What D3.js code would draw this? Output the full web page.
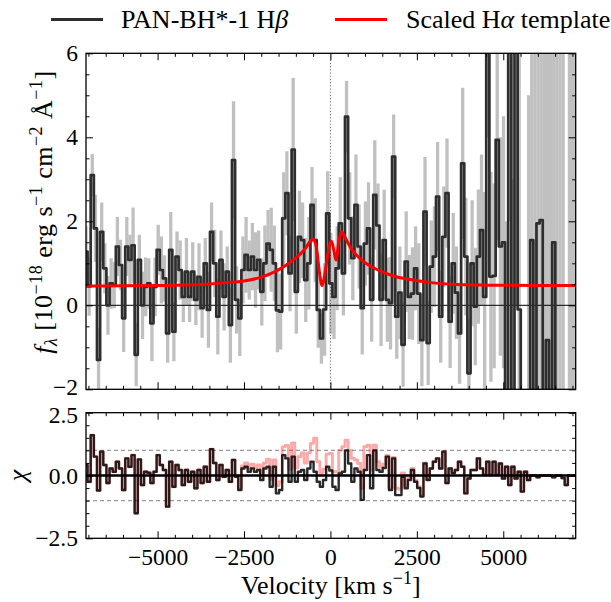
<!DOCTYPE html>
<html>
<head>
<meta charset="utf-8">
<script src="https://cdn.jsdelivr.net/npm/d3@7"></script>
<style>
  body { margin: 0; background: #fff; }
  svg { display: block; }
  text { font-family: "Liberation Serif", "Times New Roman", serif; fill: #000; }
</style>
</head>
<body>
<svg id="chart" width="611" height="602"></svg>
<script>
// Velocity grid of the binned spectrum (km/s): first bin centre and bin width
const binStart = -7070;
const binWidth = 90.8;

// Observed H-beta flux density per bin [1e-18 erg/s/cm2/A]
const flux = [
  1.28, 0.45, 3.1, 1.83, -1.3, 1.75, 0.88, 0.0, 0.52, 0.48,
  1.4, 0.96, -0.31, 1.4, 1.08, 1.43, -1.18, 1.08, 0.0, 0.44,
  0.52, -0.43, 0.44, 1.32, 0.84, 0.64, -0.67, 1.32, -0.63, 1.16,
  0.84, 0.2, 0.8, 0.2, 0.8, 0.13, 0.68, -0.07, 1.0, -0.11,
  1.75, 1.0, -0.27, 1.08, 0.2, 0.8, -0.47, 3.46, 0.13, -0.31,
  0.84, 1.2, 0.84, 1.16, 0.84, 1.08, 0.32, 1.0, 1.47, 1.32,
  1.0, -0.12, -0.15, 2.07, 2.67, 0.76, 3.71, 0.32, 1.63, 1.55,
  0.6, 1.0, 2.39, 1.55, -0.11, -0.79, -0.1, 2.19, 0.52, 0.2,
  0.88, 1.95, 0.76, 4.49, 2.07, 1.12, 2.39, 1.4, -0.07, 1.47,
  1.83, 0.13, 2.63, 1.9, 0.13, 1.55, 0.13, 0.05, 3.54, -0.27,
  0.3, -0.94, 1.04, 0.2, 0.28, 0.88, 0.28, -0.83, 2.23, -0.9,
  0.92, 1.16, 2.59, -0.27, 1.63, 2.67, -0.39, 1.0, 0.3, -0.67,
  3.38, 1.16, -1.62, 1.0, -0.03, 1.16, 1.79, 0.2, 7.0, 0.68,
  0.7, 3.94, 1.4, 1.5, -4.0, 9.0, -5.0, 8.0, -0.1, -4.0,
  -4.0, -4.0, 1.55, -3.0, 1.95, 2.03, -3.5, -0.83, -3.2, 1.5,
  -3.0, -3.5, -3.0, -4.0, -3.0, -3.5, -3.0
];

// 1-sigma uncertainty per bin (0 = no error bar)
const fluxErr = [
  0.6, 0.7, 0.5, 0.8, 0.75, 0.7, 0.6, 0.7, 0.6, 0.55,
  0.7, 0.6, 0.8, 0.7, 0.6, 0.9, 0.75, 0.6, 0.8, 0.7,
  0.6, 0.9, 0.7, 0.6, 0.8, 0.55, 0.7, 0.9, 0.7, 0.6,
  0.7, 0.6, 0.8, 0.6, 0.7, 0.6, 0.8, 0.7, 0.6, 0.9,
  0.7, 0.8, 0.9, 0.7, 0.8, 0.6, 0.9, 1.4, 0.8, 0.9,
  0.8, 0.9, 0.7, 0.8, 0.9, 0.7, 0.8, 0.9, 0.8, 1.0,
  0.9, 1.0, 0.9, 1.1, 1.0, 0.9, 1.7, 1.0, 1.1, 0.9,
  1.0, 1.1, 0.9, 1.0, 0.9, 0.6, 1.1, 1.0, 1.2, 1.0,
  1.0, 1.1, 1.0, 0.85, 1.1, 1.0, 1.2, 1.0, 1.1, 1.0,
  1.1, 1.0, 1.3, 1.0, 1.1, 1.2, 1.0, 1.1, 1.0, 1.0,
  1.1, 1.0, 1.2, 1.0, 1.1, 1.0, 1.2, 1.1, 1.3, 1.0,
  1.1, 1.2, 1.3, 1.1, 1.2, 1.3, 1.1, 1.2, 1.1, 1.2,
  1.8, 1.4, 1.3, 1.5, 1.4, 1.6, 1.8, 2.5, 3.0, 2.5,
  2.2, 2.4, 2.6, 3.0, 6.0, 7.0, 8.0, 8.0, 7.0, 1.5,
  1.5, 9.0, 12.0, 14.0, 15.0, 14.0, 16.0, 15.0, 14.0, 15.0,
  16.0, 15.0, 16.0, 0, 15.0, 15.0, 16.0
];

// Scaled H-alpha template, sampled in velocity
const templateVel = [-7070, -6000, -5000, -4000, -3500, -3000, -2500, -2000, -1600, -1200,
  -900, -700, -560, -480, -400, -320, -240, -170, -80, 0, 40, 100, 160, 240, 320, 420,
  600, 900, 1400, 1900, 2400, 2900, 3500, 4500, 6000, 7095];
const templateFlux = [0.46, 0.465, 0.47, 0.49, 0.51, 0.54, 0.58, 0.67, 0.80, 1.0,
  1.2, 1.38, 1.55, 1.57, 1.35, 0.8, 0.47, 0.7, 1.2, 1.5, 1.52, 1.3, 1.08, 1.5, 1.75, 1.62,
  1.35, 1.08, 0.83, 0.68, 0.6, 0.54, 0.5, 0.48, 0.47, 0.47];

// Residuals against the template (dark) and against the continuum only (light red)
const chiTemplate = [
  0.42, -0.25, 1.6, 0.75, -0.6, 0.95, 0.42, -0.3, 0.28, 0.15,
  0.55, 0.28, -0.58, 0.68, 0.35, 0.81, -1.5, 0.64, -0.38, 0.15,
  0.11, -0.3, 0.15, 0.81, 0.42, 0.22, -1.24, 0.55, -0.45, 0.42,
  0.22, -0.38, 0.22, -0.25, 0.15, -0.51, 0.22, -0.3, 0.35, -0.25,
  1.05, 0.5, -0.18, 0.42, -0.05, 0.22, -0.25, 0.62, -0.05, -0.58,
  0.28, 0.35, 0.15, 0.28, 0.15, 0.22, -0.18, 0.28, 0.35, -0.45,
  0.35, -0.71, -0.58, 0.81, 0.68, -0.25, 0.75, -0.25, 0.15, 0.22,
  -0.18, 0.28, 0.55, 0.15, -0.25, -0.45, -0.18, 0.35, 0.2, -0.45,
  -0.58, 0.08, 0.15, 1.0, 0.48, -0.25, 0.28, 0.15, -0.97, 0.22,
  0.81, -0.51, 1.0, 0.22, 0.15, 0.3, 0.75, -0.58, 0.68, -0.78,
  -0.78, -0.05, -0.51, -0.18, 0.22, -0.25, -0.5, -0.84, 0.48, -0.18,
  0.28, 0.55, 0.68, 0.28, 0.95, -0.3, 0.28, 0.1, 0.22, 0.55,
  0.35, -0.71, -0.12, 0.22, 0.22, 0.68, 0.28, 0.02, 0.55, 0.02,
  0.55, 0.02, 0.48, -0.12, 0.35, -0.38, 0.35, -0.12, 0.15, -0.64,
  0.15, -0.18, 0.0, 0.0, -0.07, 0.0, 0.0, 0.0, 0.0, -0.07,
  0.0, 0.0, -0.1, -0.38, 0.0, 0.0, 0.0
];
const chiContinuum = [
  0.42, -0.25, 1.6, 0.75, -0.6, 0.95, 0.42, -0.3, 0.28, 0.15,
  0.55, 0.28, -0.58, 0.68, 0.35, 0.81, -1.5, 0.64, -0.38, 0.15,
  0.11, -0.3, 0.15, 0.81, 0.42, 0.22, -1.24, 0.55, -0.45, 0.42,
  0.22, -0.38, 0.22, -0.25, 0.15, -0.51, 0.22, -0.3, 0.35, -0.25,
  1.05, 0.5, -0.18, 0.42, -0.05, 0.22, -0.25, 0.62, -0.02, -0.52,
  0.38, 0.5, 0.3, 0.45, 0.32, 0.42, 0.02, 0.5, 0.65, -0.15,
  0.62, -0.4, -0.25, 1.14, 1.2, 0.25, 1.3, 0.3, 0.75, 0.9,
  0.5, 0.9, 1.28, 1.48, 0.55, 0.1, 0.25, 0.85, 0.88, 0.15,
  0.15, 1.0, 1.15, 1.41, 1.0, 0.68, 0.62, 0.48, -0.51, 1.15,
  1.21, 0.22, 1.21, 0.55, 0.35, 0.45, 0.8, -0.5, 0.72, -0.51,
  -0.55, 0.1, -0.4, -0.1, 0.28, -0.2, -0.45, -0.8, 0.5, -0.16,
  0.28, 0.55, 0.68, 0.28, 0.95, -0.3, 0.28, 0.1, 0.22, 0.55,
  0.35, -0.71, -0.12, 0.22, 0.22, 0.68, 0.28, 0.02, 0.55, 0.02,
  0.55, 0.02, 0.48, -0.12, 0.35, -0.38, 0.35, -0.12, 0.15, -0.64,
  0.15, -0.18, 0.0, 0.0, -0.07, 0.0, 0.0, 0.0, 0.0, -0.07,
  0.0, 0.0, -0.1, -0.38, 0.0, 0.0, 0.0
];

// Tick labels / positions
const velTicks = [-5000, -2500, 0, 2500, 5000];
const velMinorStep = 500;
const fluxTicks = [-2, 0, 2, 4, 6];
const fluxMinorStep = 0.5;
const chiTicks = [-2.5, 0, 2.5];
const chiMinorStep = 0.5;
const chiBands = [-1, 1];

const svg = d3.select("#chart");
const L = 86, R = 575.7;
const main = { top: 53.3, bottom: 389.3 };
const low = { top: 412.7, bottom: 538.3 };
const TICK_FS = 23.5;   // tick labels
const LABEL_FS = 26;    // axis labels and legend

const vel = flux.map((_, i) => binStart + i * binWidth);
const x = d3.scaleLinear().domain([binStart, binStart + (flux.length - 1) * binWidth]).range([L, R]);
const yF = d3.scaleLinear().domain([-2, 6]).range([main.bottom, main.top]);
const yC = d3.scaleLinear().domain([-2.5, 2.5]).range([low.bottom, low.top]);

function clip(id, p) {
  svg.append("clipPath").attr("id", id).append("rect")
    .attr("x", L).attr("y", p.top).attr("width", R - L).attr("height", p.bottom - p.top);
}
clip("clipMain", main);
clip("clipLow", low);

// ---------- main panel ----------
const gm = svg.append("g").attr("clip-path", "url(#clipMain)");

gm.append("g").selectAll("line")
  .data(flux.map((f, i) => ({ v: vel[i], f, e: fluxErr[i] })).filter(d => d.e > 0))
  .join("line")
  .attr("x1", d => x(d.v)).attr("x2", d => x(d.v))
  .attr("y1", d => yF(d.f - d.e)).attr("y2", d => yF(d.f + d.e))
  .attr("stroke", "#c0c0c0").attr("stroke-width", 3.3);

gm.append("line").attr("x1", L).attr("x2", R).attr("y1", yF(0)).attr("y2", yF(0))
  .attr("stroke", "#000").attr("stroke-width", 1);
gm.append("line").attr("x1", x(0)).attr("x2", x(0)).attr("y1", main.top).attr("y2", main.bottom)
  .attr("stroke", "#666").attr("stroke-width", 1).attr("stroke-dasharray", "1.2,2");

const step = d3.line().curve(d3.curveStep).x((d, i) => x(vel[i])).y(d => yF(d));
gm.append("path").datum(flux).attr("d", step)
  .attr("fill", "none").attr("stroke", "#2e2e2e").attr("stroke-width", 2.7)
  .attr("stroke-linejoin", "round");

const tmpl = d3.line().curve(d3.curveMonotoneX).x((d, i) => x(templateVel[i])).y(d => yF(d));
gm.append("path").datum(templateFlux).attr("d", tmpl)
  .attr("fill", "none").attr("stroke", "#ff0000").attr("stroke-width", 3);

// ---------- residual panel ----------
const gl = svg.append("g").attr("clip-path", "url(#clipLow)");
chiBands.forEach(b => {
  gl.append("line").attr("x1", L).attr("x2", R).attr("y1", yC(b)).attr("y2", yC(b))
    .attr("stroke", "#9a9a9a").attr("stroke-width", 1.2).attr("stroke-dasharray", "4,3");
});
const stepC = d3.line().curve(d3.curveStep).x((d, i) => x(vel[i])).y(d => yC(d));
gl.append("path").datum(chiContinuum).attr("d", stepC)
  .attr("fill", "none").attr("stroke", "rgba(255,0,0,0.34)").attr("stroke-width", 2.9)
  .attr("stroke-linejoin", "round");
gl.append("path").datum(chiTemplate).attr("d", stepC)
  .attr("fill", "none").attr("stroke", "rgba(0,0,0,0.84)").attr("stroke-width", 2.4)
  .attr("stroke-linejoin", "round");
gl.append("line").attr("x1", L).attr("x2", R).attr("y1", yC(0)).attr("y2", yC(0))
  .attr("stroke", "#000").attr("stroke-width", 2.4);

// ---------- axes ----------
const velMinor = d3.range(-7000, 7001, velMinorStep).filter(v => !velTicks.includes(v));
function minorOf(domain, stepSize, majors) {
  const out = [];
  for (let v = Math.ceil(domain[0] / stepSize) * stepSize; v <= domain[1] + 1e-9; v += stepSize) {
    const r = Math.round(v * 100) / 100;
    if (!majors.some(m => Math.abs(m - r) < 1e-6)) out.push(r);
  }
  return out;
}

function styleAxis(g) {
  g.select(".domain").remove();
  g.selectAll(".tick line").attr("stroke", "#000").attr("stroke-width", 1);
  g.attr("font-family", null).attr("font-size", null);
  g.selectAll("text").attr("font-size", TICK_FS).attr("fill", "#000");
}

function panelAxes(p, y, yMajor, yMinorStep, yFmt, labelX, nudge) {
  const yMinor = minorOf(y.domain(), yMinorStep, yMajor);
  svg.append("g").attr("transform", `translate(0,${p.bottom})`)
    .call(d3.axisBottom(x).tickValues(velTicks).tickSize(-7).tickPadding(10)
      .tickFormat(labelX ? d3.format("d") : () => "")).call(styleAxis);
  svg.append("g").attr("transform", `translate(0,${p.bottom})`)
    .call(d3.axisBottom(x).tickValues(velMinor).tickSize(-3.5).tickFormat(() => "")).call(styleAxis);
  svg.append("g").attr("transform", `translate(0,${p.top})`)
    .call(d3.axisTop(x).tickValues(velTicks).tickSize(-7).tickFormat(() => "")).call(styleAxis);
  svg.append("g").attr("transform", `translate(0,${p.top})`)
    .call(d3.axisTop(x).tickValues(velMinor).tickSize(-3.5).tickFormat(() => "")).call(styleAxis);
  const left = svg.append("g").attr("transform", `translate(${L},0)`)
    .call(d3.axisLeft(y).tickValues(yMajor).tickSize(-7).tickPadding(8).tickFormat(yFmt)).call(styleAxis);
  // keep the end labels of the two stacked panels apart
  left.selectAll(".tick text").attr("y", d => nudge[String(d)] || 0);
  svg.append("g").attr("transform", `translate(${L},0)`)
    .call(d3.axisLeft(y).tickValues(yMinor).tickSize(-3.5).tickFormat(() => "")).call(styleAxis);
  svg.append("g").attr("transform", `translate(${R},0)`)
    .call(d3.axisRight(y).tickValues(yMajor).tickSize(-7).tickFormat(() => "")).call(styleAxis);
  svg.append("g").attr("transform", `translate(${R},0)`)
    .call(d3.axisRight(y).tickValues(yMinor).tickSize(-3.5).tickFormat(() => "")).call(styleAxis);
  svg.append("rect").attr("x", L).attr("y", p.top).attr("width", R - L).attr("height", p.bottom - p.top)
    .attr("fill", "none").attr("stroke", "#000").attr("stroke-width", 1.3);
}
panelAxes(main, yF, fluxTicks, fluxMinorStep, d3.format("d"), false, { "-2": -2 });
panelAxes(low, yC, chiTicks, chiMinorStep, d3.format(".1f"), true, { "2.5": 2 });

// ---------- labels ----------
const SUP = 18;
const xl = svg.append("text").attr("x", (L + R) / 2).attr("y", 594)
  .attr("text-anchor", "middle").attr("font-size", LABEL_FS);
xl.append("tspan").text("Velocity [km s");
xl.append("tspan").attr("font-size", SUP).attr("dy", -10).text("−1");
xl.append("tspan").attr("dy", 10).text("]");

const yl = svg.append("text").attr("transform", `translate(52,212) rotate(-90)`)
  .attr("text-anchor", "middle").attr("font-size", LABEL_FS).attr("letter-spacing", 0.5);
yl.append("tspan").attr("font-style", "italic").text("f");
yl.append("tspan").attr("font-style", "italic").attr("font-size", SUP).attr("dy", 5).text("λ");
yl.append("tspan").attr("dy", -5).text(" [10");
[["−18", " erg s"], ["−1", " cm"], ["−2", " Å"], ["−1", "]"]].forEach(([sup, rest]) => {
  yl.append("tspan").attr("font-size", SUP).attr("dy", -10).text(sup);
  yl.append("tspan").attr("dy", 10).text(rest);
});

svg.append("text").attr("transform", `translate(26,${(low.top + low.bottom) / 2}) rotate(-90)`)
  .attr("text-anchor", "middle").attr("font-size", LABEL_FS).attr("font-style", "italic").text("χ");

// ---------- legend ----------
const lg = svg.append("g");
lg.append("line").attr("x1", 51).attr("x2", 103).attr("y1", 19.5).attr("y2", 19.5)
  .attr("stroke", "#2e2e2e").attr("stroke-width", 3);
const t1 = lg.append("text").attr("x", 121).attr("y", 28).attr("font-size", LABEL_FS);
t1.append("tspan").text("PAN-BH*-1 H");
t1.append("tspan").attr("font-style", "italic").text("β");
lg.append("line").attr("x1", 335).attr("x2", 387).attr("y1", 19.5).attr("y2", 19.5)
  .attr("stroke", "#ff0000").attr("stroke-width", 3);
const t2 = lg.append("text").attr("x", 406).attr("y", 28).attr("font-size", LABEL_FS);
t2.append("tspan").text("Scaled H");
t2.append("tspan").attr("font-style", "italic").text("α");
t2.append("tspan").text(" template");
</script>
</body>
</html>
